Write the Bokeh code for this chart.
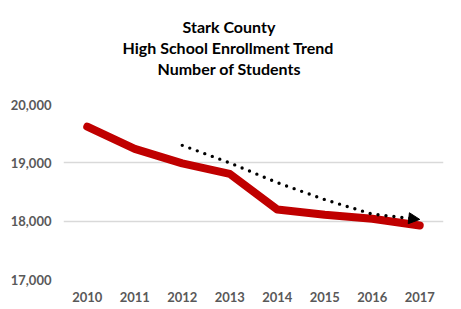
from bokeh.plotting import figure
from bokeh.models import (FixedTicker, NumeralTickFormatter, Range1d, Title,
                          Arrow, NormalHead, ColumnDataSource)
from bokeh.embed import file_html
from bokeh.resources import INLINE

# ---- data ----
years = [2010, 2011, 2012, 2013, 2014, 2015, 2016, 2017]
enrollment = [19620, 19240, 18990, 18810, 18200, 18110, 18040, 17925]
trend_years = [2012, 2013, 2014, 2015, 2016, 2017]
trend_values = [19300, 19000, 18660, 18370, 18120, 18030]
y_ticks = [17000, 18000, 19000, 20000]
title_lines = ["Stark County", "High School Enrollment Trend", "Number of Students"]

FONT = "Lato"
W, H = 461, 309
LEFT, RIGHT, TOP, BOTTOM = 63, 18, 104, 30

p = figure(width=W, height=H, output_backend="svg", toolbar_location=None,
           x_range=Range1d(2009.5, 2017.5), y_range=Range1d(17000, 20000),
           min_border_left=LEFT, min_border_right=RIGHT, min_border_top=TOP,
           min_border_bottom=BOTTOM)
p.outline_line_color = None
p.background_fill_color = "white"
p.border_fill_color = "white"

# grid
p.xgrid.grid_line_color = None
p.ygrid.grid_line_color = "#d9d9d9"
p.ygrid.grid_line_width = 1.3

# axes
for ax in (p.xaxis[0], p.yaxis[0]):
    ax.axis_line_color = None
    ax.major_tick_line_color = None
    ax.minor_tick_line_color = None
    ax.major_tick_out = 0
    ax.major_tick_in = 0
    ax.major_label_text_font = FONT
    ax.major_label_text_font_style = "bold"
    ax.major_label_text_font_size = "13px"
    ax.major_label_text_color = "#595959"

p.xaxis.ticker = FixedTicker(ticks=years)
p.xaxis.major_label_standoff = 12
p.yaxis.ticker = FixedTicker(ticks=y_ticks)
p.yaxis.formatter = NumeralTickFormatter(format="0,0")
p.yaxis.major_label_standoff = 12

# main series
src = ColumnDataSource(dict(x=years, y=enrollment))
p.line("x", "y", source=src, line_color="#C00000", line_width=8,
       line_cap="round", line_join="round")

# dotted trend with arrow head
tsrc = ColumnDataSource(dict(x=trend_years[:-1] + [trend_years[-1] - 0.2],
                             y=trend_values[:-1] + [trend_values[-1] + (trend_values[-2] - trend_values[-1]) * 0.2]))
p.line("x", "y", source=tsrc, line_color="black", line_width=3.4,
       line_dash="0 8", line_cap="round")
p.add_layout(Arrow(end=NormalHead(size=11, fill_color="black", line_color="black"),
                   x_start=trend_years[-2], y_start=trend_values[-2],
                   x_end=trend_years[-1], y_end=trend_values[-1],
                   line_alpha=0))

# title lines: left-aligned with offsets so they sit centred at x~229
title_left_edges = [182, 122, 157]
HAS_STANDOFF = "standoff" in Title.properties()

def style_title(t, txt, left_edge, standoff):
    t.text = txt
    t.align = "left"
    t.offset = left_edge - LEFT
    t.text_font = FONT
    t.text_font_style = "bold"
    t.text_font_size = "16px"
    t.text_color = "black"
    if HAS_STANDOFF:
        t.standoff = standoff

# spacer between frame and the title block
spacer = Title()
style_title(spacer, " ", 100, 6)
p.add_layout(spacer, "above")
# p.title is outermost; added titles stack outward from the frame
style_title(p.title, title_lines[0], title_left_edges[0], 0)
t3 = Title()
style_title(t3, title_lines[2], title_left_edges[2], 0)
p.add_layout(t3, "above")
t2 = Title()
style_title(t2, title_lines[1], title_left_edges[1], 0)
p.add_layout(t2, "above")

open("out.html", "w").write(file_html(p, INLINE))
